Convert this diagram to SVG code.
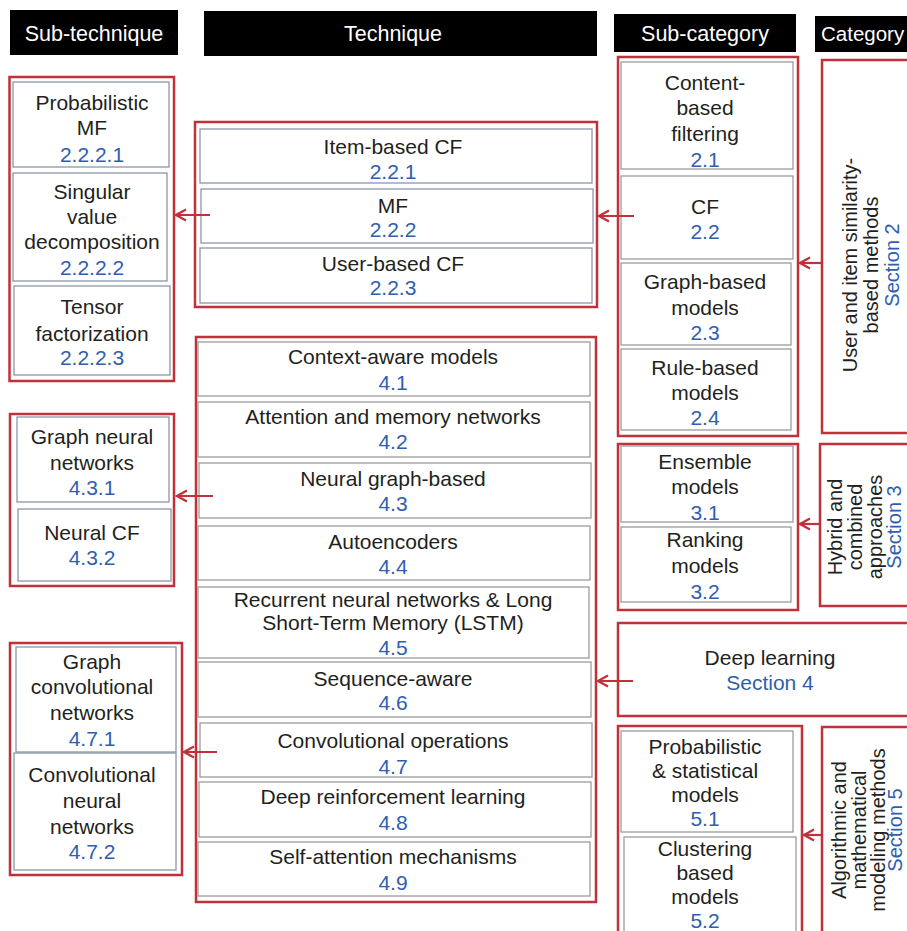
<svg xmlns="http://www.w3.org/2000/svg" width="907" height="931" viewBox="0 0 907 931">
<defs>
<style>
.red{fill:none;stroke:#C0313A;stroke-width:2.5}
.box{fill:#fff;stroke:#8C97A6;stroke-width:1.3}
.box2{fill:#fff;stroke:#9C9C9C;stroke-width:1.3}
.hd{fill:#000}
text{font-family:"Liberation Sans",Arial,sans-serif;font-size:21px;fill:#231F20;text-anchor:middle}
.n{fill:#2E5EB0}
.h{fill:#fff;font-size:21.5px}
.r{font-size:20px}
.c{fill:none;stroke:#C0313A;stroke-width:2.2}
</style>
<marker id="ah" viewBox="-13 -8 15 16" refX="0" refY="0" markerWidth="15" markerHeight="16" orient="auto" markerUnits="userSpaceOnUse">
<path d="M-10,-5.5 L0,0 L-10,5.5" fill="none" stroke="#C0313A" stroke-width="2.2"/>
</marker>
</defs>
<rect width="907" height="931" fill="#fff"/>

<g id="headers">
<rect class="hd" x="10" y="10" width="168" height="45"/>
<text class="h" x="94" y="41">Sub-technique</text>
<rect class="hd" x="204" y="11" width="393" height="45"/>
<text class="h" x="393" y="41">Technique</text>
<rect class="hd" x="614" y="14" width="182" height="38"/>
<text class="h" x="705" y="41">Sub-category</text>
<rect class="hd" x="815" y="16" width="100" height="36"/>
<text class="h" x="821" y="41" style="text-anchor:start;font-size:20.5px">Category</text>
</g>

<!-- Sub-technique group 1 -->
<g id="subtech-2222">
<rect class="red" x="9.5" y="77" width="164.5" height="304"/>
<g id="n2221"><rect class="box" x="13" y="82" width="156" height="85"/>
<text x="92" y="110">Probabilistic</text><text x="92" y="135">MF</text><text class="n" x="92" y="162">2.2.2.1</text></g>
<g id="n2222"><rect class="box" x="13" y="173" width="154" height="108"/>
<text x="92" y="199">Singular</text><text x="92" y="224">value</text><text x="92" y="249">decomposition</text><text class="n" x="92" y="275">2.2.2.2</text></g>
<g id="n2223"><rect class="box" x="14" y="286" width="156" height="89"/>
<text x="92" y="314">Tensor</text><text x="92" y="341">factorization</text><text class="n" x="92" y="365">2.2.2.3</text></g>
</g>

<!-- Sub-technique group 2 -->
<g id="subtech-43">
<rect class="red" x="10" y="414" width="164" height="172"/>
<g id="n431"><rect class="box" x="17" y="417" width="152" height="85"/>
<text x="92" y="444">Graph neural</text><text x="92" y="470">networks</text><text class="n" x="92" y="495">4.3.1</text></g>
<g id="n432"><rect class="box" x="18" y="509" width="153" height="72"/>
<text x="92" y="540">Neural CF</text><text class="n" x="92" y="565">4.3.2</text></g>
</g>

<!-- Sub-technique group 3 -->
<g id="subtech-47">
<rect class="red" x="10" y="643" width="172" height="232"/>
<g id="n471"><rect class="box" x="16" y="647" width="160" height="105"/>
<text x="92" y="669">Graph</text><text x="92" y="694">convolutional</text><text x="92" y="720">networks</text><text class="n" x="92" y="746">4.7.1</text></g>
<g id="n472"><rect class="box" x="14" y="753" width="162" height="117"/>
<text x="92" y="782">Convolutional</text><text x="92" y="808">neural</text><text x="92" y="834">networks</text><text class="n" x="92" y="859">4.7.2</text></g>
</g>

<!-- Technique group 1 -->
<g id="tech-22">
<rect class="red" x="195" y="122" width="402" height="185"/>
<g id="n221"><rect class="box" x="200" y="129" width="392" height="54"/>
<text x="393" y="154">Item-based CF</text><text class="n" x="393" y="179">2.2.1</text></g>
<g id="n222"><rect class="box" x="201" y="189" width="392" height="54"/>
<text x="393" y="213">MF</text><text class="n" x="393" y="237">2.2.2</text></g>
<g id="n223"><rect class="box" x="200" y="248" width="392" height="55"/>
<text x="393" y="271">User-based CF</text><text class="n" x="393" y="295">2.2.3</text></g>
</g>

<!-- Technique group 2 -->
<g id="tech-4">
<rect class="red" x="196" y="337" width="400" height="565"/>
<g id="n41"><rect class="box2" x="198" y="342" width="392" height="54"/>
<text x="393" y="364">Context-aware models</text><text class="n" x="393" y="390">4.1</text></g>
<g id="n42"><rect class="box2" x="198" y="402" width="392" height="55"/>
<text x="393" y="424">Attention and memory networks</text><text class="n" x="393" y="449">4.2</text></g>
<g id="n43"><rect class="box2" x="199" y="463" width="392" height="55"/>
<text x="393" y="486">Neural graph-based</text><text class="n" x="393" y="511">4.3</text></g>
<g id="n44"><rect class="box2" x="198" y="526" width="392" height="54"/>
<text x="393" y="549">Autoencoders</text><text class="n" x="393" y="574">4.4</text></g>
<g id="n45"><rect class="box2" x="198" y="587" width="391" height="71"/>
<text x="393" y="607">Recurrent neural networks &amp; Long</text><text x="393" y="630">Short-Term Memory (LSTM)</text><text class="n" x="393" y="655">4.5</text></g>
<g id="n46"><rect class="box2" x="198" y="662" width="393" height="55"/>
<text x="393" y="686">Sequence-aware</text><text class="n" x="393" y="710">4.6</text></g>
<g id="n47"><rect class="box2" x="200" y="723" width="392" height="54"/>
<text x="393" y="748">Convolutional operations</text><text class="n" x="393" y="774">4.7</text></g>
<g id="n48"><rect class="box2" x="199" y="782" width="392" height="55"/>
<text x="393" y="804">Deep reinforcement learning</text><text class="n" x="393" y="830">4.8</text></g>
<g id="n49"><rect class="box2" x="198" y="842" width="392" height="54"/>
<text x="393" y="864">Self-attention mechanisms</text><text class="n" x="393" y="890">4.9</text></g>
</g>

<!-- Sub-category group 2 -->
<g id="subcat-2">
<rect class="red" x="618" y="57" width="180" height="379"/>
<g id="n21"><rect class="box2" x="621" y="62" width="172" height="107"/>
<text x="705" y="90">Content-</text><text x="705" y="115">based</text><text x="705" y="141">filtering</text><text class="n" x="705" y="167">2.1</text></g>
<g id="n22"><rect class="box2" x="621" y="176" width="172" height="83"/>
<text x="705" y="214">CF</text><text class="n" x="705" y="239">2.2</text></g>
<g id="n23"><rect class="box2" x="621" y="263" width="170" height="82"/>
<text x="705" y="289">Graph-based</text><text x="705" y="315">models</text><text class="n" x="705" y="340">2.3</text></g>
<g id="n24"><rect class="box2" x="621" y="349" width="170" height="81"/>
<text x="705" y="375">Rule-based</text><text x="705" y="400">models</text><text class="n" x="705" y="425">2.4</text></g>
</g>

<!-- Sub-category group 3 -->
<g id="subcat-3">
<rect class="red" x="618" y="444" width="180" height="166"/>
<g id="n31"><rect class="box2" x="621" y="446" width="172" height="76"/>
<text x="705" y="469">Ensemble</text><text x="705" y="494">models</text><text class="n" x="705" y="520">3.1</text></g>
<g id="n32"><rect class="box2" x="621" y="527" width="170" height="75"/>
<text x="705" y="547">Ranking</text><text x="705" y="573">models</text><text class="n" x="705" y="599">3.2</text></g>
</g>

<!-- Deep learning -->
<g id="cat-4">
<rect class="red" x="618" y="623" width="300" height="93"/>
<text x="770" y="665">Deep learning</text><text class="n" x="770" y="690">Section 4</text>
</g>

<!-- Sub-category group 5 -->
<g id="subcat-5">
<rect class="red" x="618" y="726" width="184" height="220"/>
<g id="n51"><rect class="box2" x="621" y="731" width="172" height="101"/>
<text x="705" y="754">Probabilistic</text><text x="705" y="778">&amp; statistical</text><text x="705" y="802">models</text><text class="n" x="705" y="826">5.1</text></g>
<g id="n52"><rect class="box2" x="624" y="837" width="172" height="110"/>
<text x="705" y="856">Clustering</text><text x="705" y="880">based</text><text x="705" y="904">models</text><text class="n" x="705" y="928">5.2</text></g>
</g>

<!-- Categories -->
<g id="cat-2">
<rect class="red" x="822" y="60" width="100" height="373"/>
<text class="r" transform="translate(857,265) rotate(-90)">User and item similarity-</text>
<text class="r" transform="translate(878,265) rotate(-90)">based methods</text>
<text class="r n" transform="translate(899,265) rotate(-90)">Section 2</text>
</g>
<g id="cat-3">
<rect class="red" x="820" y="444" width="100" height="162"/>
<text class="r" transform="translate(842,527) rotate(-90)">Hybrid and</text>
<text class="r" transform="translate(862,527) rotate(-90)">combined</text>
<text class="r" transform="translate(882,527) rotate(-90)">approaches</text>
<text class="r n" transform="translate(901,527) rotate(-90)">Section 3</text>
</g>
<g id="cat-5">
<rect class="red" x="822" y="727" width="100" height="220"/>
<text class="r" transform="translate(846,830) rotate(-90)">Algorithmic and</text>
<text class="r" transform="translate(866,830) rotate(-90)">mathematical</text>
<text class="r" transform="translate(885,830) rotate(-90)">modeling methods</text>
<text class="r n" transform="translate(902,830) rotate(-90)">Section 5</text>
</g>

<!-- Connectors -->
<g id="connectors">
<line class="c" x1="210" y1="215" x2="176" y2="215" marker-end="url(#ah)"/>
<line class="c" x1="213" y1="496" x2="177" y2="496" marker-end="url(#ah)"/>
<line class="c" x1="217" y1="752" x2="184" y2="752" marker-end="url(#ah)"/>
<line class="c" x1="634" y1="216" x2="599" y2="216" marker-end="url(#ah)"/>
<line class="c" x1="633" y1="681" x2="598" y2="681" marker-end="url(#ah)"/>
<line class="c" x1="822" y1="263" x2="800" y2="263" marker-end="url(#ah)"/>
<line class="c" x1="820" y1="524" x2="800" y2="524" marker-end="url(#ah)"/>
<line class="c" x1="822" y1="835" x2="804" y2="835" marker-end="url(#ah)"/>
</g>
</svg>
